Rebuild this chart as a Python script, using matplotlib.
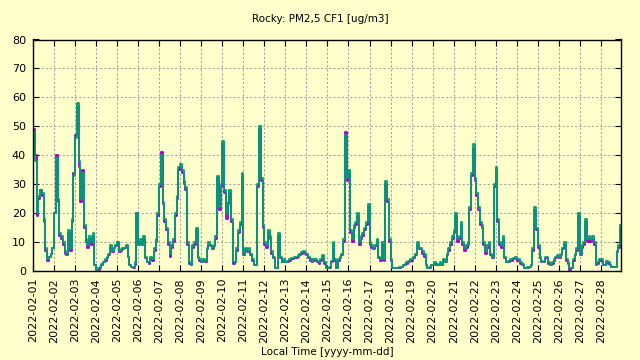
import numpy as np
import pandas as pd
import matplotlib
matplotlib.use('Agg')
import matplotlib.pyplot as plt
import matplotlib.dates as mdates

# PM2.5 CF1 readings (ug/m3), every 2 hours from 2022-02-01 00:00, two channels
chan_a = [
    49, 40, 19, 25, 28, 26, 17, 7, 3.5, 5, 6, 8,            # 02-01
    20, 40, 24, 12, 11, 9, 6, 5.5, 13, 7, 17, 34,           # 02-02
    47, 57, 36, 24, 35, 15, 10, 8, 11, 9, 12, 2,            # 02-03
    0.5, 0.5, 1, 2, 3, 3.5, 4.5, 5.5, 8, 6.5, 8, 8.5,       # 02-04
    10, 6.5, 7, 7.5, 8, 8.5, 5, 2, 1.5, 1, 2, 20,           # 02-05
    9, 10, 9, 11, 4.5, 3, 2.5, 4.5, 3.5, 7, 10, 19,         # 02-06
    29, 41, 23, 17, 14, 9, 5, 8, 10, 19, 25, 35,            # 02-07
    36, 34, 30, 28, 9, 2.5, 2, 8, 9, 14, 4.5, 3.5,          # 02-08
    3, 3.5, 3, 7.5, 9, 8.5, 7.5, 8.5, 11, 32, 21, 29,       # 02-09
    44, 27, 18, 23, 27, 17, 2.5, 3, 7, 13, 16, 33,          # 02-10
    5.5, 7.5, 6.5, 7, 5.5, 3.5, 2, 2, 29, 49, 31, 15,       # 02-11
    9, 8, 13, 11, 6, 4.5, 1, 1, 12, 4.5, 3, 3.5,            # 02-12
    3, 3, 3.5, 4, 4, 4.5, 4.5, 5, 5.5, 6, 6.5, 6,           # 02-13
    5.5, 4.5, 3.5, 3, 3.5, 3.5, 3, 2.5, 3.5, 5, 2.5, 1,     # 02-14
    1, 1, 3, 9, 3.5, 1, 3.5, 4.5, 5.5, 10, 48, 31,          # 02-15
    34, 13, 10, 15, 16, 19, 9, 11, 12, 14, 16, 22,          # 02-16
    9, 8, 7.5, 8.5, 10, 4.5, 3.5, 9, 3.5, 30, 24, 10,       # 02-17
    3.5, 1, 1, 1, 1, 1, 1.5, 2, 2, 2.5, 3, 3.5,             # 02-18
    3.5, 4.5, 5.5, 9, 7.5, 7.5, 6, 5, 2, 1, 1, 2,           # 02-19
    2, 2.5, 2, 2, 2.5, 2, 3.5, 3, 5.5, 7, 9, 11,            # 02-20
    13, 19, 10, 11, 16, 9, 7, 8, 9, 21, 33, 42,             # 02-21
    31, 26, 21, 16, 15, 9, 6, 8, 9, 5.5, 4.5, 29,           # 02-22
    35, 17, 9, 8, 11, 4.5, 3, 3, 3.5, 3.5, 4, 4.5,          # 02-23
    3.5, 3.5, 2.5, 2, 1, 1, 1, 1.5, 2, 7, 21, 14,           # 02-24
    8, 4.5, 3, 3, 4.5, 4.5, 2.5, 2, 2.5, 3.5, 4.5, 5,       # 02-25
    4.5, 5.5, 7.5, 9, 3.5, 2.5, 0.5, 1, 3.5, 5.5, 7, 19,    # 02-26
    5.5, 8, 9, 17, 10, 11, 10, 11, 9, 2, 2.5, 3.5,          # 02-27
    3.5, 2, 2, 3, 2.5, 2, 1.5, 1.5, 1.5, 6.5, 8, 15,        # 02-28
]
chan_b = [
    48, 38, 20, 26, 28, 27, 18, 8, 4, 5, 6, 8,              # 02-01
    20, 39, 25, 13, 12, 10, 7, 6, 14, 8, 18, 33,            # 02-02
    46, 58, 38, 25, 34, 16, 11, 9, 12, 10, 13, 2,           # 02-03
    0.5, 1, 1.5, 2.5, 3, 4, 5, 6, 9, 7, 8, 9,               # 02-04
    10, 7, 7.5, 8, 8, 9, 5, 2, 1.5, 1.5, 3, 20,             # 02-05
    9, 11, 9, 12, 5, 3, 3, 5, 4, 8, 11, 20,                 # 02-06
    30, 40, 24, 18, 15, 10, 6, 9, 11, 20, 26, 36,           # 02-07
    37, 35, 31, 29, 10, 3, 2, 9, 10, 15, 5, 4,              # 02-08
    3, 4, 3.5, 8, 10, 9, 8, 9, 12, 33, 22, 30,              # 02-09
    45, 28, 20, 24, 28, 18, 3, 3, 8, 14, 17, 34,            # 02-10
    6, 8, 7, 8, 6, 4, 2, 2, 30, 50, 32, 16,                 # 02-11
    10, 9, 14, 12, 7, 5, 1, 1, 13, 5, 3, 4,                 # 02-12
    3, 3.5, 4, 4.5, 4.5, 5, 5, 5.5, 6, 6.5, 7, 6.5,         # 02-13
    6, 5, 4, 3, 4, 4, 3.5, 3, 4, 5.5, 3, 1,                 # 02-14
    1, 1.5, 3.5, 10, 4, 1, 4, 5, 6, 11, 47, 32,             # 02-15
    35, 14, 11, 16, 17, 20, 10, 12, 13, 15, 17, 23,         # 02-16
    10, 9, 8, 9, 11, 5, 4, 10, 4, 31, 25, 11,               # 02-17
    4, 1, 1, 1, 1, 1.5, 1.5, 2, 2.5, 3, 3.5, 4,             # 02-18
    4, 5, 6, 10, 8, 8, 7, 6, 2, 1, 1.5, 2,                  # 02-19
    2, 3, 2.5, 2, 3, 2, 4, 3, 6, 8, 10, 12,                 # 02-20
    14, 20, 11, 12, 17, 10, 8, 9, 10, 22, 34, 44,           # 02-21
    32, 27, 22, 17, 16, 10, 7, 9, 10, 6, 5, 30,             # 02-22
    36, 18, 10, 9, 12, 5, 3, 3.5, 4, 4, 4.5, 5,             # 02-23
    4, 4, 3, 2.5, 1, 1, 1.5, 1.5, 2, 8, 22, 15,             # 02-24
    9, 5, 3.5, 3, 5, 5, 3, 2, 3, 4, 5, 5.5,                 # 02-25
    5, 6, 8, 10, 4, 3, 1, 1, 4, 6, 8, 20,                   # 02-26
    6, 9, 10, 18, 11, 12, 11, 12, 10, 2, 3, 4,              # 02-27
    4, 2, 2, 3.5, 3, 2, 1.5, 1.5, 1.5, 7, 9, 16,            # 02-28
]

t = pd.date_range('2022-02-01 00:00', periods=len(chan_b), freq='2h')

bg = '#ffffcc'
plt.rcParams['font.family'] = 'DejaVu Sans'
fig = plt.figure(figsize=(6.4, 3.6), dpi=100, facecolor=bg)
ax = fig.add_axes([33/640, 1-271/360, (621-33)/640, (271-39.5)/360], facecolor=bg)

ax.plot(t, chan_a, drawstyle='steps-post', color='#9400d3', lw=1.3)
ax.plot(t, chan_b, drawstyle='steps-post', color='#009e73', lw=1.3)

ax.set_xlim(pd.Timestamp('2022-02-01 00:00'), pd.Timestamp('2022-02-28 23:00'))
ax.set_ylim(0, 80)
ax.set_yticks(np.arange(0, 81, 10))
ax.xaxis.set_major_locator(mdates.DayLocator())
ax.xaxis.set_major_formatter(mdates.DateFormatter('%Y-%m-%d'))
plt.setp(ax.get_xticklabels(), rotation=90, ha='center', va='top')

ax.grid(True, color='#a0a0a0', lw=0.75, linestyle=(0, (2, 2)))
ax.tick_params(direction='in', top=True, right=True, length=4, width=0.8,
               labelsize=8, colors='black', pad=5)
for s in ax.spines.values():
    s.set_linewidth(1.0)
    s.set_color('black')

fig.text(0.5, 1-19/360, 'Rocky: PM2,5 CF1 [ug/m3]', ha='center', va='center', fontsize=7.5)
fig.text(327/640, 1-352/360, 'Local Time [yyyy-mm-dd]', ha='center', va='center', fontsize=7.5)

fig.savefig('out.png', dpi=100, facecolor=bg)
